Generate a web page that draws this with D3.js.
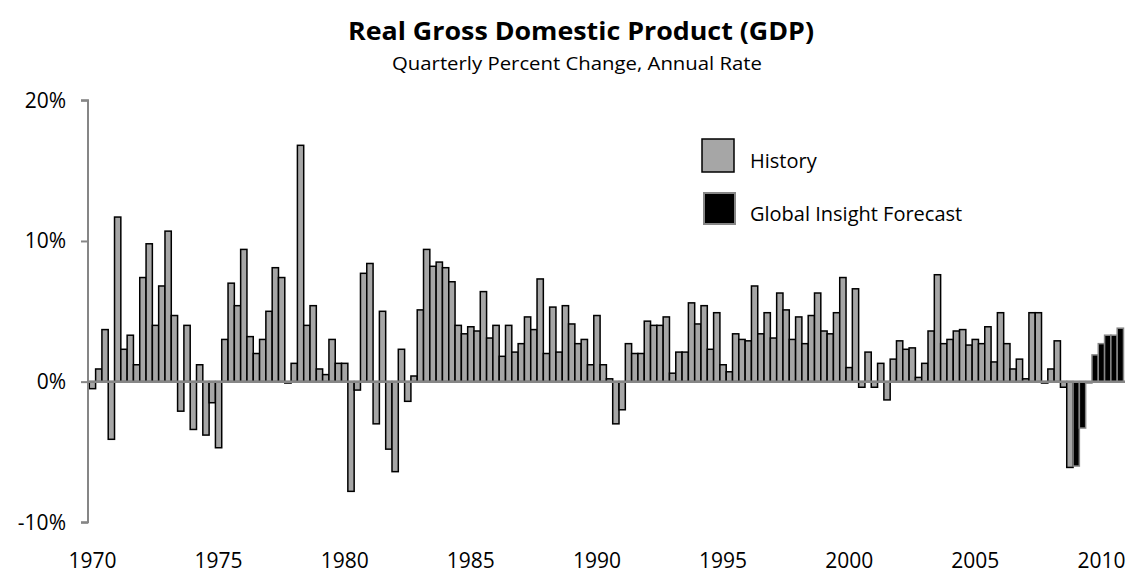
<!DOCTYPE html>
<html>
<head>
<meta charset="utf-8">
<script src="https://cdn.jsdelivr.net/npm/d3@7"></script>
<style>
  html, body { margin: 0; padding: 0; background: #ffffff; }
  svg { display: block; }
  text { font-family: "Open Sans", "Noto Sans", sans-serif; fill: #000; }
</style>
</head>
<body>
<svg id="chart" width="1130" height="575"></svg>
<script>
// ---- Data ----
const years = d3.range(1970, 2011);
const quarters = ["Q1", "Q2", "Q3", "Q4"];
// Quarterly percent change, annual rate, 1970Q1 .. 2010Q4
const gdpValues = [
  -0.5, 0.9, 3.7, -4.1,   // 1970
  11.7, 2.3, 3.3, 1.2,    // 1971
  7.4, 9.8, 4.0, 6.8,     // 1972
  10.7, 4.7, -2.1, 4.0,   // 1973
  -3.4, 1.2, -3.8, -1.5,  // 1974
  -4.7, 3.0, 7.0, 5.4,    // 1975
  9.4, 3.2, 2.0, 3.0,     // 1976
  5.0, 8.1, 7.4, -0.1,    // 1977
  1.3, 16.8, 4.0, 5.4,    // 1978
  0.9, 0.5, 3.0, 1.3,     // 1979
  1.3, -7.8, -0.6, 7.7,   // 1980
  8.4, -3.0, 5.0, -4.8,   // 1981
  -6.4, 2.3, -1.4, 0.4,   // 1982
  5.1, 9.4, 8.2, 8.5,     // 1983
  8.1, 7.1, 4.0, 3.4,     // 1984
  3.9, 3.6, 6.4, 3.1,     // 1985
  4.0, 1.8, 4.0, 2.1,     // 1986
  2.7, 4.6, 3.7, 7.3,     // 1987
  2.0, 5.3, 2.1, 5.4,     // 1988
  4.1, 2.7, 3.0, 1.2,     // 1989
  4.7, 1.2, 0.2, -3.0,    // 1990
  -2.0, 2.7, 2.0, 2.0,    // 1991
  4.3, 4.0, 4.0, 4.6,     // 1992
  0.6, 2.1, 2.1, 5.6,     // 1993
  4.1, 5.4, 2.3, 4.9,     // 1994
  1.2, 0.7, 3.4, 3.0,     // 1995
  2.9, 6.8, 3.4, 4.9,     // 1996
  3.1, 6.3, 5.1, 3.0,     // 1997
  4.6, 2.7, 4.7, 6.3,     // 1998
  3.6, 3.4, 4.9, 7.4,     // 1999
  1.0, 6.6, -0.4, 2.1,    // 2000
  -0.4, 1.3, -1.3, 1.6,   // 2001
  2.9, 2.3, 2.4, 0.3,     // 2002
  1.3, 3.6, 7.6, 2.7,     // 2003
  3.0, 3.6, 3.7, 2.6,     // 2004
  3.0, 2.7, 3.9, 1.4,     // 2005
  4.9, 2.7, 0.9, 1.6,     // 2006
  0.2, 4.9, 4.9, -0.1,    // 2007
  0.9, 2.9, -0.4, -6.1,   // 2008
  -6.0, -3.3, -0.1, 1.9,  // 2009 (forecast)
  2.7, 3.3, 3.3, 3.8      // 2010 (forecast)
];
const forecastStart = "2009Q1";
const yTicks = [-10, 0, 10, 20];
const xTickYears = [1970, 1975, 1980, 1985, 1990, 1995, 2000, 2005, 2010];
const seriesNames = ["History", "Global Insight Forecast"];
const titleText = "Real Gross Domestic Product (GDP)";
const subtitleText = "Quarterly Percent Change, Annual Rate";

// ---- Build records ----
const periods = [];
years.forEach(y => quarters.forEach(q => periods.push(y + q)));
const fcIdx = periods.indexOf(forecastStart);
const data = periods.map((p, i) => ({
  period: p, value: gdpValues[i], forecast: i >= fcIdx
}));

// ---- Layout ----
const svg = d3.select("#chart");
const plotLeft = 89.3, plotRight = 1123.5;
const x = d3.scaleBand().domain(periods).range([plotLeft, plotRight]).paddingInner(0).paddingOuter(0);
const y = d3.scaleLinear().domain([-10, 20]).range([522.3, 100.3]);

const histFill = "#a6a6a6";
const axisGray = "#868686";

// Title
svg.append("text")
  .attr("x", 581).attr("y", 40)
  .attr("text-anchor", "middle")
  .attr("font-size", 25).attr("font-weight", "bold")
  .attr("textLength", 466).attr("lengthAdjust", "spacingAndGlyphs")
  .text(titleText);
svg.append("text")
  .attr("x", 577).attr("y", 70)
  .attr("text-anchor", "middle")
  .attr("font-size", 19)
  .attr("textLength", 370).attr("lengthAdjust", "spacingAndGlyphs")
  .text(subtitleText);

// Bars
svg.append("g").selectAll("rect").data(data).join("rect")
  .attr("x", d => x(d.period))
  .attr("width", x.bandwidth())
  .attr("y", d => y(Math.max(0, d.value)))
  .attr("height", d => Math.abs(y(d.value) - y(0)))
  .attr("fill", d => d.forecast ? "#000000" : histFill)
  .attr("stroke", d => d.forecast ? axisGray : "#000000")
  .attr("stroke-width", 1.5);

// Y axis
const yAxis = d3.axisLeft(y).tickValues(yTicks).tickSize(7).tickPadding(15)
  .tickFormat(d => d + "%");
const gy = svg.append("g").attr("transform", "translate(88,0)").call(yAxis);
gy.select(".domain").attr("stroke", axisGray).attr("stroke-width", 2)
  .attr("d", `M-7,${y(20)}H0V${y(-10)}H-7`);
gy.selectAll(".tick line").attr("stroke", axisGray).attr("stroke-width", 2);
gy.selectAll(".tick text").attr("font-size", 21).attr("fill", "#000")
  .attr("font-family", "'Open Sans', sans-serif");

// Zero line (category axis) drawn over bars
const xAxis = d3.axisBottom(x).tickValues([]).tickSize(0).tickSizeOuter(0);
const gx = svg.append("g").attr("transform", `translate(0,${y(0)})`).call(xAxis);
gx.select(".domain").attr("stroke", axisGray).attr("stroke-width", 2.5)
  .attr("d", `M88,0H${plotRight + 1.5}`);

// X labels (years at Q1)
svg.append("g").selectAll("text").data(xTickYears).join("text")
  .attr("x", d => x(d + "Q1") + x.bandwidth() / 2)
  .attr("y", 568)
  .attr("text-anchor", "middle")
  .attr("font-size", 21)
  .text(d => d);

// Legend
const legend = svg.append("g");
legend.append("rect").attr("x", 702).attr("y", 139).attr("width", 32).attr("height", 33)
  .attr("fill", histFill).attr("stroke", "#000").attr("stroke-width", 1.5);
legend.append("rect").attr("x", 704).attr("y", 193).attr("width", 31).attr("height", 31)
  .attr("fill", "#000").attr("stroke", axisGray).attr("stroke-width", 2);
legend.append("text").attr("x", 750).attr("y", 168).attr("font-size", 20).text(seriesNames[0]);
legend.append("text").attr("x", 750).attr("y", 221).attr("font-size", 20).text(seriesNames[1]);
</script>
</body>
</html>
